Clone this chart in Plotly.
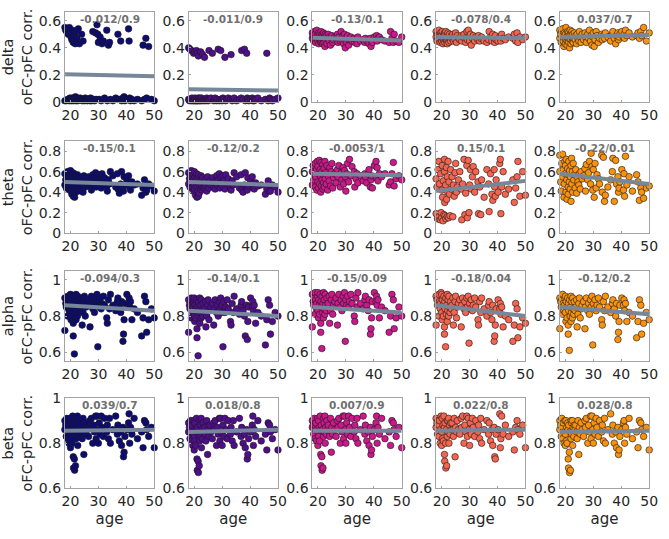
import plotly.graph_objects as go

# ---------------- data ----------------
ages = [18, 18, 18.3, 18.5, 18.7,
        19, 19, 19.2, 19.5, 19.6, 19.8,
        20, 20, 20.2, 20.3, 20.5, 20.6, 20.8, 21,
        21, 21.1, 21.2, 21.4, 21.5, 21.7, 21.8, 22, 22,
        22.2, 22.3, 22.5, 22.6, 22.8, 23, 23.2, 23.5,
        23.7, 24, 24.2, 24.5, 24.8, 25, 25.3, 25.6, 26,
        26.5, 27, 27.2, 27.5, 28, 28.3, 28.6, 29, 29.2,
        29.5, 29.8, 30, 30.3, 30.6, 31, 31.3, 31.8, 32.2,
        33, 33.2, 33.6, 34, 34.3, 35.2, 36.2, 36.8,
        37, 37.5, 38, 38.3, 38.8, 39, 39.2, 39.5,
        40.2, 40.8, 41, 41.2, 41.5, 42, 42.8, 44,
        45.5, 46, 46.5, 47, 47.3, 48, 49, 50]

bands = ["delta", "theta", "alpha", "beta"]
colors = ["#0d0c72", "#4f0f8c", "#c9198b", "#f4644f", "#f9920f"]

delta_1 = [0.55, 0.01, 0.53, 0.01, 0.52,
           0.54, 0.02, 0.50, 0.01, 0.55, 0.03,
           0.52, 0.02, 0.48, 0.01, 0.46, 0.03, 0.53, 0.02,
           0.44, 0.01, 0.03, 0.50, 0.02, 0.43, 0.04, 0.01, 0.52,
           0.02, 0.47, 0.03, 0.01, 0.54, 0.02, 0.43, 0.03,
           0.02, 0.50, 0.01, 0.45, 0.02, 0.01, 0.03, 0.02, 0.01,
           0.02, 0.01, 0.03, 0.01, 0.52, 0.02, 0.01, 0.51, 0.02,
           0.57, 0.50, 0.44, 0.02, 0.48, 0.01, 0.43, 0.45, 0.03,
           0.53, 0.01, 0.42, 0.44, 0.02, 0.01, 0.03, 0.02,
           0.50, 0.02, 0.45, 0.01, 0.03, 0.02, 0.04, 0.01,
           0.02, 0.54, 0.45, 0.03, 0.01, 0.02, 0.01, 0.02,
           0.01, 0.42, 0.02, 0.47, 0.03, 0.41, 0.02, 0.01]
delta_2 = [0.40, 0.02, 0.01, 0.39, 0.02,
           0.01, 0.38, 0.03, 0.02, 0.01, 0.36,
           0.02, 0.01, 0.37, 0.03, 0.01, 0.02, 0.38, 0.01,
           0.02, 0.36, 0.01, 0.03, 0.34, 0.02, 0.01, 0.03, 0.02,
           0.01, 0.37, 0.02, 0.03, 0.01, 0.35, 0.02, 0.01,
           0.33, 0.02, 0.01, 0.03, 0.02, 0.01, 0.38, 0.02, 0.03,
           0.36, 0.01, 0.02, 0.03, 0.01, 0.02, 0.39, 0.01, 0.02,
           0.38, 0.02, 0.01, 0.03, 0.02, 0.33, 0.01, 0.02, 0.03,
           0.02, 0.35, 0.01, 0.02, 0.03, 0.01, 0.02, 0.03,
           0.38, 0.02, 0.39, 0.01, 0.36, 0.03, 0.02, 0.01,
           0.02, 0.03, 0.01, 0.02, 0.01, 0.02, 0.03, 0.01,
           0.02, 0.36, 0.01, 0.03, 0.02, 0.01, 0.02, 0.03]
delta_3 = [0.51, 0.47, 0.49, 0.45, 0.52,
           0.50, 0.46, 0.44, 0.48, 0.53, 0.47,
           0.49, 0.45, 0.51, 0.43, 0.47, 0.50, 0.46, 0.44,
           0.48, 0.52, 0.45, 0.47, 0.50, 0.43, 0.49, 0.46, 0.51,
           0.44, 0.48, 0.41, 0.50, 0.46, 0.49, 0.43, 0.47,
           0.50, 0.45, 0.48, 0.42, 0.47, 0.49, 0.44, 0.46, 0.48,
           0.47, 0.50, 0.44, 0.48, 0.45, 0.52, 0.46, 0.49, 0.43,
           0.50, 0.40, 0.47, 0.44, 0.49, 0.42, 0.46, 0.48, 0.45,
           0.47, 0.44, 0.46, 0.43, 0.48, 0.45, 0.46, 0.44,
           0.47, 0.45, 0.46, 0.43, 0.47, 0.41, 0.45, 0.44,
           0.48, 0.46, 0.49, 0.45, 0.47, 0.48, 0.46, 0.45,
           0.44, 0.52, 0.47, 0.44, 0.50, 0.45, 0.44, 0.48]
delta_4 = [0.52, 0.48, 0.45, 0.50, 0.47,
           0.53, 0.46, 0.49, 0.44, 0.51, 0.48,
           0.50, 0.45, 0.52, 0.47, 0.43, 0.49, 0.46, 0.51,
           0.48, 0.44, 0.50, 0.46, 0.52, 0.47, 0.45, 0.49, 0.43,
           0.51, 0.46, 0.48, 0.44, 0.50, 0.47, 0.45, 0.49,
           0.47, 0.50, 0.45, 0.48, 0.46, 0.51, 0.44, 0.49, 0.47,
           0.46, 0.49, 0.45, 0.48, 0.50, 0.47, 0.44, 0.52, 0.46,
           0.53, 0.48, 0.45, 0.50, 0.42, 0.47, 0.49, 0.45, 0.48,
           0.46, 0.49, 0.45, 0.47, 0.48, 0.45, 0.44, 0.46,
           0.52, 0.48, 0.45, 0.50, 0.47, 0.44, 0.49, 0.46,
           0.45, 0.48, 0.47, 0.45, 0.50, 0.47, 0.46, 0.48,
           0.47, 0.50, 0.45, 0.51, 0.44, 0.48, 0.46, 0.48]
delta_5 = [0.53, 0.47, 0.50, 0.44, 0.52,
           0.49, 0.54, 0.45, 0.41, 0.51, 0.47,
           0.50, 0.43, 0.55, 0.46, 0.48, 0.42, 0.52, 0.45,
           0.47, 0.51, 0.44, 0.49, 0.40, 0.53, 0.46, 0.50, 0.43,
           0.48, 0.52, 0.45, 0.50, 0.44, 0.47, 0.51, 0.46,
           0.49, 0.43, 0.50, 0.47, 0.45, 0.52, 0.48, 0.44, 0.50,
           0.46, 0.51, 0.48, 0.44, 0.50, 0.47, 0.53, 0.45, 0.49,
           0.42, 0.48, 0.51, 0.41, 0.46, 0.52, 0.49, 0.44, 0.47,
           0.50, 0.46, 0.49, 0.47, 0.51, 0.48, 0.45, 0.50,
           0.52, 0.47, 0.43, 0.49, 0.51, 0.46, 0.48, 0.50,
           0.52, 0.48, 0.50, 0.47, 0.53, 0.49, 0.51, 0.48,
           0.49, 0.51, 0.47, 0.52, 0.49, 0.55, 0.45, 0.51]

theta_1 = [0.58, 0.47, 0.52, 0.44, 0.55,
           0.60, 0.50, 0.45, 0.57, 0.42, 0.53,
           0.48, 0.61, 0.44, 0.56, 0.38, 0.51, 0.59, 0.46,
           0.36, 0.54, 0.42, 0.58, 0.35, 0.49, 0.40, 0.55, 0.47,
           0.52, 0.44, 0.57, 0.48, 0.41, 0.55, 0.46, 0.50,
           0.43, 0.53, 0.47, 0.40, 0.56, 0.49, 0.45, 0.52, 0.48,
           0.55, 0.46, 0.51, 0.42, 0.57, 0.48, 0.53, 0.59, 0.45,
           0.55, 0.50, 0.47, 0.57, 0.52, 0.44, 0.58, 0.49, 0.54,
           0.46, 0.41, 0.52, 0.48, 0.60, 0.56, 0.45, 0.58,
           0.43, 0.39, 0.48, 0.60, 0.45, 0.41, 0.55, 0.47,
           0.52, 0.56, 0.49, 0.45, 0.42, 0.50, 0.47, 0.48,
           0.37, 0.44, 0.52, 0.40, 0.42, 0.48, 0.46, 0.41]
theta_2 = [0.59, 0.48, 0.53, 0.45, 0.56,
           0.61, 0.49, 0.44, 0.58, 0.41, 0.52,
           0.47, 0.60, 0.43, 0.55, 0.37, 0.50, 0.58, 0.45,
           0.35, 0.53, 0.41, 0.57, 0.36, 0.48, 0.39, 0.54, 0.46,
           0.51, 0.43, 0.56, 0.47, 0.42, 0.54, 0.45, 0.49,
           0.44, 0.52, 0.46, 0.41, 0.55, 0.48, 0.44, 0.51, 0.47,
           0.54, 0.45, 0.50, 0.43, 0.56, 0.47, 0.52, 0.58, 0.44,
           0.54, 0.49, 0.46, 0.56, 0.51, 0.43, 0.57, 0.48, 0.53,
           0.45, 0.42, 0.51, 0.47, 0.59, 0.55, 0.44, 0.57,
           0.42, 0.40, 0.47, 0.59, 0.44, 0.42, 0.54, 0.46,
           0.51, 0.55, 0.48, 0.44, 0.43, 0.49, 0.46, 0.47,
           0.38, 0.43, 0.51, 0.41, 0.41, 0.47, 0.45, 0.40]
theta_3 = [0.60, 0.47, 0.66, 0.52, 0.58,
           0.68, 0.45, 0.55, 0.62, 0.42, 0.70,
           0.50, 0.65, 0.44, 0.58, 0.71, 0.48, 0.62, 0.40,
           0.55, 0.69, 0.46, 0.60, 0.52, 0.67, 0.43, 0.57, 0.49,
           0.63, 0.45, 0.70, 0.53, 0.59, 0.48, 0.66, 0.42,
           0.56, 0.51, 0.64, 0.46, 0.60, 0.68, 0.44, 0.54, 0.58,
           0.49, 0.62, 0.55, 0.66, 0.45, 0.59, 0.52, 0.64, 0.48,
           0.61, 0.55, 0.41, 0.58, 0.68, 0.50, 0.72, 0.56, 0.65,
           0.60, 0.45, 0.53, 0.58, 0.49, 0.56, 0.51, 0.58,
           0.55, 0.49, 0.58, 0.62, 0.45, 0.52, 0.56, 0.44,
           0.66, 0.70, 0.54, 0.64, 0.51, 0.58, 0.55, 0.58,
           0.47, 0.50, 0.58, 0.69, 0.46, 0.53, 0.56, 0.52]
theta_4 = [0.53, 0.19, 0.45, 0.14, 0.62,
           0.70, 0.16, 0.48, 0.13, 0.58, 0.20,
           0.42, 0.15, 0.66, 0.35, 0.12, 0.51, 0.18, 0.72,
           0.60, 0.30, 0.17, 0.47, 0.14, 0.64, 0.33, 0.55, 0.16,
           0.40, 0.70, 0.15, 0.50, 0.38, 0.17, 0.62, 0.43,
           0.55, 0.16, 0.47, 0.36, 0.59, 0.68, 0.40, 0.45, 0.52,
           0.60, 0.43, 0.13, 0.48, 0.72, 0.18, 0.39, 0.66, 0.15,
           0.71, 0.20, 0.47, 0.62, 0.43, 0.55, 0.65, 0.40, 0.60,
           0.50, 0.19, 0.45, 0.18, 0.52, 0.35, 0.62, 0.48,
           0.21, 0.58, 0.38, 0.32, 0.62, 0.45, 0.36, 0.52,
           0.40, 0.68, 0.72, 0.19, 0.45, 0.60, 0.38, 0.43,
           0.52, 0.30, 0.44, 0.55, 0.70, 0.36, 0.60, 0.37]
theta_5 = [0.76, 0.60, 0.50, 0.41, 0.68,
           0.77, 0.55, 0.62, 0.35, 0.48, 0.70,
           0.58, 0.66, 0.40, 0.72, 0.52, 0.33, 0.63, 0.45,
           0.38, 0.57, 0.70, 0.50, 0.61, 0.43, 0.55, 0.31, 0.66,
           0.73, 0.48, 0.60, 0.40, 0.68, 0.52, 0.57, 0.44,
           0.62, 0.39, 0.55, 0.50, 0.47, 0.58, 0.43, 0.60, 0.53,
           0.56, 0.63, 0.41, 0.67, 0.52, 0.59, 0.70, 0.48, 0.78,
           0.65, 0.42, 0.62, 0.35, 0.68, 0.44, 0.57, 0.53, 0.48,
           0.76, 0.40, 0.74, 0.31, 0.37, 0.45, 0.52, 0.60,
           0.73, 0.31, 0.71, 0.48, 0.55, 0.40, 0.44, 0.50,
           0.62, 0.42, 0.58, 0.36, 0.75, 0.47, 0.55, 0.41,
           0.57, 0.50, 0.32, 0.44, 0.40, 0.34, 0.44, 0.46]

alpha_1 = [0.90, 0.72, 0.87, 0.85, 0.89,
           0.91, 0.80, 0.88, 0.83, 0.86, 0.90,
           0.82, 0.92, 0.78, 0.88, 0.85, 0.80, 0.91, 0.76,
           0.69, 0.87, 0.84, 0.59, 0.90, 0.81, 0.86, 0.78, 0.92,
           0.83, 0.88, 0.80, 0.91, 0.85, 0.82, 0.89, 0.84,
           0.86, 0.90, 0.75, 0.82, 0.88, 0.91, 0.80, 0.85, 0.87,
           0.89, 0.74, 0.86, 0.91, 0.84, 0.88, 0.82, 0.90, 0.86,
           0.92, 0.63, 0.88, 0.85, 0.90, 0.84, 0.87, 0.91, 0.86,
           0.79, 0.76, 0.89, 0.84, 0.92, 0.86, 0.83, 0.88,
           0.90, 0.85, 0.82, 0.88, 0.66, 0.70, 0.78, 0.87,
           0.92, 0.87, 0.90, 0.85, 0.88, 0.78, 0.84, 0.82,
           0.69, 0.79, 0.91, 0.88, 0.71, 0.78, 0.84, 0.79]
alpha_2 = [0.89, 0.71, 0.86, 0.84, 0.87,
           0.90, 0.79, 0.86, 0.82, 0.85, 0.88,
           0.80, 0.90, 0.77, 0.86, 0.84, 0.79, 0.89, 0.73,
           0.68, 0.85, 0.82, 0.58, 0.88, 0.80, 0.84, 0.76, 0.90,
           0.82, 0.86, 0.79, 0.89, 0.83, 0.80, 0.87, 0.82,
           0.84, 0.88, 0.74, 0.80, 0.86, 0.89, 0.78, 0.83, 0.85,
           0.87, 0.75, 0.84, 0.89, 0.82, 0.86, 0.80, 0.88, 0.84,
           0.90, 0.82, 0.86, 0.63, 0.88, 0.82, 0.85, 0.89, 0.84,
           0.77, 0.75, 0.87, 0.82, 0.91, 0.84, 0.81, 0.86,
           0.88, 0.83, 0.80, 0.69, 0.86, 0.67, 0.77, 0.85,
           0.90, 0.85, 0.88, 0.83, 0.86, 0.76, 0.82, 0.80,
           0.64, 0.78, 0.89, 0.86, 0.70, 0.77, 0.82, 0.80]
alpha_3 = [0.92, 0.74, 0.88, 0.86, 0.90,
           0.93, 0.81, 0.89, 0.84, 0.87, 0.91,
           0.83, 0.93, 0.79, 0.89, 0.86, 0.81, 0.92, 0.76,
           0.71, 0.88, 0.85, 0.62, 0.91, 0.82, 0.87, 0.79, 0.93,
           0.84, 0.89, 0.81, 0.92, 0.86, 0.83, 0.90, 0.85,
           0.87, 0.91, 0.76, 0.83, 0.89, 0.92, 0.81, 0.86, 0.88,
           0.90, 0.75, 0.87, 0.92, 0.85, 0.89, 0.83, 0.91, 0.87,
           0.93, 0.66, 0.89, 0.86, 0.91, 0.85, 0.88, 0.92, 0.87,
           0.80, 0.77, 0.90, 0.85, 0.93, 0.87, 0.84, 0.89,
           0.91, 0.86, 0.83, 0.89, 0.70, 0.73, 0.79, 0.88,
           0.93, 0.88, 0.91, 0.86, 0.89, 0.79, 0.85, 0.83,
           0.71, 0.80, 0.92, 0.89, 0.73, 0.79, 0.85, 0.80]
alpha_4 = [0.91, 0.75, 0.89, 0.86, 0.90,
           0.92, 0.80, 0.88, 0.84, 0.87, 0.93,
           0.82, 0.92, 0.78, 0.89, 0.86, 0.80, 0.91, 0.74,
           0.70, 0.88, 0.84, 0.63, 0.90, 0.81, 0.86, 0.77, 0.92,
           0.83, 0.89, 0.80, 0.91, 0.85, 0.82, 0.88, 0.84,
           0.86, 0.90, 0.75, 0.82, 0.88, 0.91, 0.79, 0.85, 0.87,
           0.89, 0.74, 0.86, 0.90, 0.84, 0.88, 0.82, 0.90, 0.85,
           0.91, 0.65, 0.87, 0.84, 0.89, 0.83, 0.86, 0.90, 0.85,
           0.78, 0.75, 0.88, 0.82, 0.90, 0.84, 0.80, 0.86,
           0.88, 0.82, 0.78, 0.86, 0.66, 0.69, 0.75, 0.84,
           0.89, 0.84, 0.87, 0.81, 0.85, 0.74, 0.80, 0.78,
           0.66, 0.75, 0.87, 0.84, 0.68, 0.74, 0.79, 0.76]
alpha_5 = [0.90, 0.73, 0.88, 0.85, 0.89,
           0.92, 0.81, 0.87, 0.83, 0.86, 0.90,
           0.82, 0.91, 0.77, 0.88, 0.85, 0.79, 0.90, 0.75,
           0.70, 0.87, 0.83, 0.61, 0.89, 0.80, 0.85, 0.77, 0.91,
           0.82, 0.88, 0.79, 0.90, 0.84, 0.81, 0.88, 0.83,
           0.85, 0.89, 0.74, 0.81, 0.87, 0.90, 0.79, 0.84, 0.86,
           0.88, 0.73, 0.85, 0.90, 0.83, 0.87, 0.81, 0.89, 0.85,
           0.91, 0.64, 0.87, 0.84, 0.89, 0.83, 0.86, 0.90, 0.85,
           0.78, 0.75, 0.88, 0.83, 0.91, 0.85, 0.82, 0.87,
           0.89, 0.84, 0.80, 0.87, 0.67, 0.71, 0.77, 0.86,
           0.90, 0.86, 0.89, 0.83, 0.87, 0.77, 0.82, 0.80,
           0.68, 0.77, 0.89, 0.86, 0.70, 0.76, 0.82, 0.78]

beta_1 = [0.90, 0.86, 0.88, 0.83, 0.91,
          0.87, 0.82, 0.89, 0.80, 0.85, 0.91,
          0.84, 0.78, 0.90, 0.82, 0.87, 0.80, 0.92, 0.86,
          0.74, 0.69, 0.88, 0.73, 0.68, 0.85, 0.70, 0.91, 0.82,
          0.89, 0.84, 0.92, 0.79, 0.87, 0.83, 0.90, 0.86,
          0.88, 0.85, 0.82, 0.91, 0.75, 0.87, 0.84, 0.89, 0.86,
          0.83, 0.90, 0.87, 0.91, 0.80, 0.88, 0.85, 0.92, 0.82,
          0.92, 0.86, 0.80, 0.89, 0.84, 0.92, 0.87, 0.83, 0.91,
          0.85, 0.88, 0.82, 0.91, 0.80, 0.86, 0.92, 0.84,
          0.88, 0.81, 0.85, 0.79, 0.87, 0.74, 0.76, 0.83,
          0.86, 0.89, 0.93, 0.80, 0.87, 0.84, 0.91, 0.82,
          0.85, 0.78, 0.90, 0.89, 0.86, 0.83, 0.87, 0.78]
beta_2 = [0.89, 0.85, 0.87, 0.82, 0.90,
          0.86, 0.81, 0.88, 0.79, 0.84, 0.90,
          0.83, 0.77, 0.89, 0.81, 0.86, 0.79, 0.91, 0.85,
          0.73, 0.68, 0.87, 0.72, 0.67, 0.84, 0.70, 0.90, 0.81,
          0.88, 0.83, 0.91, 0.78, 0.86, 0.82, 0.89, 0.85,
          0.87, 0.84, 0.81, 0.90, 0.75, 0.86, 0.83, 0.88, 0.85,
          0.82, 0.89, 0.86, 0.90, 0.79, 0.87, 0.84, 0.91, 0.81,
          0.91, 0.85, 0.79, 0.88, 0.83, 0.91, 0.86, 0.82, 0.90,
          0.84, 0.87, 0.81, 0.90, 0.79, 0.85, 0.91, 0.83,
          0.87, 0.80, 0.84, 0.78, 0.86, 0.73, 0.75, 0.82,
          0.85, 0.88, 0.92, 0.79, 0.86, 0.83, 0.90, 0.81,
          0.84, 0.77, 0.89, 0.88, 0.85, 0.82, 0.86, 0.77]
beta_3 = [0.90, 0.87, 0.88, 0.84, 0.91,
          0.88, 0.82, 0.89, 0.81, 0.86, 0.91,
          0.85, 0.79, 0.90, 0.83, 0.87, 0.81, 0.92, 0.86,
          0.75, 0.70, 0.88, 0.74, 0.68, 0.86, 0.69, 0.91, 0.83,
          0.89, 0.85, 0.92, 0.80, 0.87, 0.84, 0.90, 0.86,
          0.88, 0.85, 0.83, 0.91, 0.76, 0.87, 0.84, 0.89, 0.86,
          0.83, 0.90, 0.87, 0.91, 0.80, 0.88, 0.85, 0.92, 0.82,
          0.92, 0.86, 0.80, 0.89, 0.84, 0.92, 0.87, 0.83, 0.91,
          0.85, 0.88, 0.82, 0.91, 0.80, 0.86, 0.92, 0.84,
          0.88, 0.81, 0.85, 0.79, 0.87, 0.75, 0.77, 0.83,
          0.86, 0.89, 0.92, 0.80, 0.87, 0.84, 0.91, 0.82,
          0.85, 0.79, 0.90, 0.89, 0.86, 0.83, 0.87, 0.78]
beta_4 = [0.91, 0.87, 0.89, 0.84, 0.90,
          0.88, 0.83, 0.90, 0.80, 0.86, 0.92,
          0.85, 0.79, 0.91, 0.82, 0.88, 0.81, 0.92, 0.87,
          0.75, 0.72, 0.89, 0.80, 0.69, 0.86, 0.70, 0.90, 0.83,
          0.90, 0.85, 0.91, 0.80, 0.88, 0.84, 0.89, 0.86,
          0.89, 0.86, 0.83, 0.91, 0.74, 0.87, 0.85, 0.90, 0.86,
          0.84, 0.91, 0.87, 0.92, 0.80, 0.88, 0.85, 0.92, 0.83,
          0.91, 0.86, 0.79, 0.89, 0.84, 0.91, 0.87, 0.83, 0.90,
          0.85, 0.88, 0.82, 0.91, 0.80, 0.86, 0.90, 0.84,
          0.89, 0.81, 0.86, 0.79, 0.87, 0.74, 0.73, 0.84,
          0.86, 0.93, 0.78, 0.82, 0.92, 0.84, 0.88, 0.83,
          0.85, 0.77, 0.87, 0.90, 0.86, 0.84, 0.88, 0.78]
beta_5 = [0.90, 0.86, 0.88, 0.83, 0.91,
          0.87, 0.82, 0.89, 0.80, 0.85, 0.90,
          0.84, 0.79, 0.90, 0.81, 0.87, 0.80, 0.89, 0.86,
          0.73, 0.69, 0.88, 0.76, 0.67, 0.85, 0.68, 0.90, 0.82,
          0.89, 0.84, 0.90, 0.79, 0.87, 0.83, 0.88, 0.86,
          0.88, 0.85, 0.82, 0.90, 0.75, 0.87, 0.84, 0.89, 0.86,
          0.83, 0.90, 0.87, 0.91, 0.80, 0.88, 0.85, 0.92, 0.82,
          0.92, 0.86, 0.80, 0.89, 0.84, 0.91, 0.87, 0.83, 0.90,
          0.85, 0.88, 0.81, 0.91, 0.80, 0.86, 0.93, 0.84,
          0.88, 0.80, 0.85, 0.78, 0.87, 0.75, 0.77, 0.83,
          0.86, 0.89, 0.90, 0.80, 0.87, 0.84, 0.91, 0.82,
          0.85, 0.78, 0.90, 0.89, 0.86, 0.83, 0.87, 0.77]

panel_values = [[delta_1, delta_2, delta_3, delta_4, delta_5],
                [theta_1, theta_2, theta_3, theta_4, theta_5],
                [alpha_1, alpha_2, alpha_3, alpha_4, alpha_5],
                [beta_1, beta_2, beta_3, beta_4, beta_5]]

# linear fit values at age 18 and age 50
fit_age = [18, 50]
fit_start = [[0.205, 0.095, 0.475, 0.48, 0.48],
             [0.50, 0.50, 0.58, 0.41, 0.58],
             [0.86, 0.83, 0.85, 0.86, 0.85],
             [0.855, 0.85, 0.855, 0.855, 0.85]]
fit_end = [[0.19, 0.085, 0.455, 0.47, 0.495],
           [0.47, 0.47, 0.565, 0.51, 0.48],
           [0.83, 0.80, 0.82, 0.80, 0.81],
           [0.86, 0.86, 0.855, 0.86, 0.855]]

stat_labels = [["-0.012/0.9", "-0.011/0.9", "-0.13/0.1", "-0.078/0.4", "0.037/0.7"],
               ["-0.15/0.1", "-0.12/0.2", "-0.0053/1", "0.15/0.1", "-0.22/0.01"],
               ["-0.094/0.3", "-0.14/0.1", "-0.15/0.09", "-0.18/0.04", "-0.12/0.2"],
               ["0.039/0.7", "0.018/0.8", "0.007/0.9", "0.022/0.8", "0.028/0.8"]]

y_ranges = [[0, 0.665], [0, 0.9], [0.55, 1.05], [0.6, 1.0]]
y_ticks = [[0, 0.2, 0.4, 0.6], [0, 0.2, 0.4, 0.6, 0.8], [0.6, 0.8, 1.0], [0.6, 0.8, 1.0]]
y_ticktext = [["0", "0.2", "0.4", "0.6"], ["0", "0.2", "0.4", "0.6", "0.8"],
              ["0.6", "0.8", "1"], ["0.6", "0.8", "1"]]
x_range = [18, 50]
x_ticks = [20, 30, 40, 50]

for r in range(4):
    for c in range(5):
        assert len(panel_values[r][c]) == len(ages), (r, c, len(panel_values[r][c]))

# ---------------- figure ----------------
W, H = 669, 539
col_left = [63, 189, 315, 441, 567]
col_w = 91
row_top = [4, 137, 271, 402]
row_bot = [97, 232, 364, 495]

FONT = "DejaVu Sans"
TXT = "#262626"
FRAME = "#a3a3a3"

fig = go.Figure()
layout = dict(width=W, height=H, margin=dict(l=0, r=0, t=0, b=0),
              paper_bgcolor="white", plot_bgcolor="white", showlegend=False,
              font=dict(family=FONT, size=14, color=TXT))
annotations = []

for r in range(4):
    for c in range(5):
        k = r * 5 + c + 1
        xa = "x" if k == 1 else f"x{k}"
        ya = "y" if k == 1 else f"y{k}"
        fig.add_trace(go.Scatter(
            x=ages, y=panel_values[r][c], mode="markers", xaxis=xa, yaxis=ya,
            cliponaxis=False,
            marker=dict(size=6.6, color=colors[c], line=dict(color="#1a1a1a", width=0.6))))
        fig.add_trace(go.Scatter(
            x=fit_age, y=[fit_start[r][c], fit_end[r][c]], mode="lines",
            xaxis=xa, yaxis=ya, line=dict(color="#76879a", width=4)))
        x0 = col_left[c] / W
        x1 = (col_left[c] + col_w) / W
        y0 = 1 - row_bot[r] / H
        y1 = 1 - row_top[r] / H
        xkey = "xaxis" if k == 1 else f"xaxis{k}"
        ykey = "yaxis" if k == 1 else f"yaxis{k}"
        layout[xkey] = dict(domain=[x0, x1], range=x_range, anchor=ya,
                            tickvals=x_ticks, ticks="inside", ticklen=2,
                            tickcolor=FRAME, showline=True, linecolor=FRAME,
                            linewidth=1, mirror=True, showgrid=False, zeroline=False,
                            tickfont=dict(size=14, color=TXT),
                            title=dict(text="age" if r == 3 else "",
                                       font=dict(size=15, color=TXT), standoff=5))
        layout[ykey] = dict(domain=[y0, y1], range=y_ranges[r], anchor=xa,
                            tickvals=y_ticks[r], ticktext=y_ticktext[r],
                            ticks="inside", ticklen=2, tickcolor=FRAME,
                            showline=True, linecolor=FRAME, linewidth=1, mirror=True,
                            showgrid=False, zeroline=False,
                            tickfont=dict(size=14, color=TXT),
                            title=dict(text=(bands[r] + "<br>oFC-pFC corr.") if c == 0 else "",
                                       font=dict(size=14.5, color=TXT), standoff=2))
        annotations.append(dict(
            x=(x0 + x1) / 2, y=y1, xref="paper", yref="paper",
            xanchor="center", yanchor="top", yshift=1, showarrow=False,
            text="<b>" + stat_labels[r][c] + "</b>",
            font=dict(family=FONT, size=10.5, color="#707070")))

layout["annotations"] = annotations
fig.update_layout(**layout)
fig.write_html("out.html")
